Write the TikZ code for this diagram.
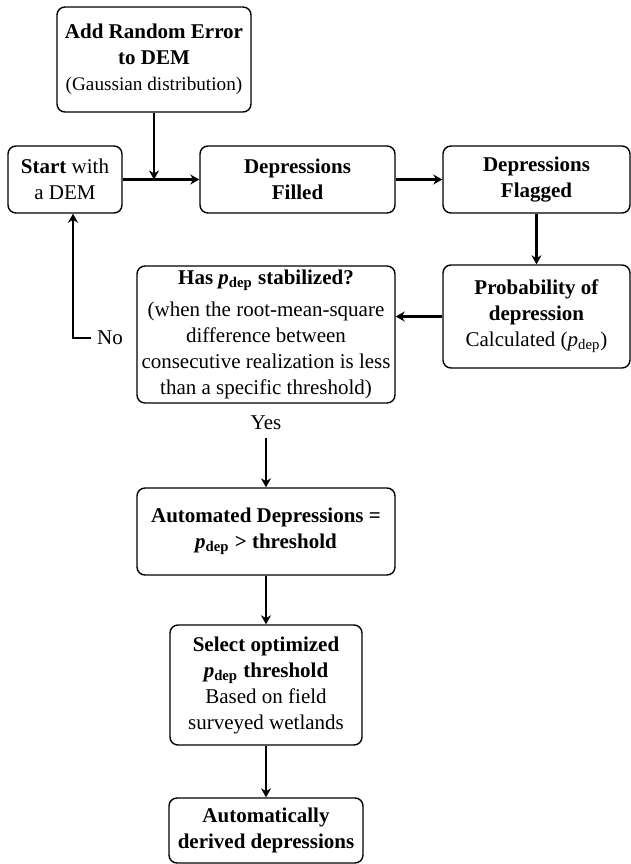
\documentclass[tikz,border=0pt]{standalone}
\usepackage{fontspec}
\setmainfont{Liberation Serif}
\usetikzlibrary{
	arrows.meta,
	positioning
}
\tikzset{
  % arrow
	cstra/.style      ={-{Stealth[length=4.5pt,width=5pt]}, line width=1.3pt}, % right arrow
  % node
	cstnode/.style    ={draw=black,text=black,rounded corners=4pt,line width=.7pt,align=center,inner sep=2pt,font=\fontsize{10.5}{13}\selectfont},
	csttext/.style    ={text=black,inner sep=1pt,font=\fontsize{10.5}{13}\selectfont}
}
\newcommand{\pdep}{\textit{p}\textsubscript{dep}}

\begin{document}
\begin{tikzpicture}[x=.5pt,y=-.5pt]
			\useasboundingbox (0,0) rectangle (631,864);
			% top row
			\node[cstnode,minimum width=97pt,minimum height=52.5pt] (add) at (154,59.5)
				{\textbf{Add Random Error}\\ \textbf{to DEM}\\ {\fontsize{9.6}{11.5}\selectfont (Gaussian distribution)}};
			\node[cstnode,minimum width=57pt,minimum height=33.5pt] (start) at (65,179.5)
				{\textbf{Start} with\\ a DEM};
			\node[cstnode,minimum width=97.5pt,minimum height=33.5pt] (filled) at (297.5,179.5)
				{\textbf{Depressions}\\ \textbf{Filled}};
			\node[cstnode,minimum width=93.5pt,minimum height=33.5pt] (flagged) at (536.5,179.5)
				{\textbf{Depressions}\\ \textbf{Flagged}};
			% loop
			\node[cstnode,minimum width=93.5pt,minimum height=51.5pt] (prob) at (536.5,316.5)
				{\textbf{Probability of}\\ \textbf{depression}\\ Calculated (\pdep)};
			\node[cstnode,minimum width=129pt,minimum height=68.5pt] (has) at (266,334.5)
				{\textbf{Has \pdep\ stabilized?}\\[3pt] (when the root-mean-square\\ difference between\\ consecutive realization is less\\ than a specific threshold)};
			\node[csttext] (no) at (110,338) {No};
			\node[csttext] (yes) at (266,423) {Yes};
			% bottom column
			\node[cstnode,minimum width=129pt,minimum height=43.5pt] (auto) at (266,531.5)
				{\textbf{Automated Depressions =}\\ \textbf{\pdep\ > threshold}};
			\node[cstnode,minimum width=96pt,minimum height=60pt] (select) at (266,685)
				{\textbf{Select optimized}\\ \textbf{\pdep\ threshold}\\ Based on field\\ surveyed wetlands};
			\node[cstnode,minimum width=97pt,minimum height=32.5pt] (derived) at (266,830.5)
				{\textbf{Automatically}\\ \textbf{derived depressions}};
			% connectors
			\draw[cstra] (add.south) -- (add.south |- start.east);
			\draw[cstra] (start) -- (filled);
			\draw[cstra] (filled) -- (flagged);
			\draw[cstra] (flagged) -- (prob);
			\draw[cstra] (prob.west) -- (prob.west -| has.east);
			\draw[cstra] ([xshift=-2pt]no.west) -| ([xshift=4pt]start.south);
			\draw[cstra] ([yshift=-3pt]yes.south) -- (auto);
			\draw[cstra] (auto) -- (select);
			\draw[cstra] (select) -- (derived);
		\end{tikzpicture}
\end{document}
